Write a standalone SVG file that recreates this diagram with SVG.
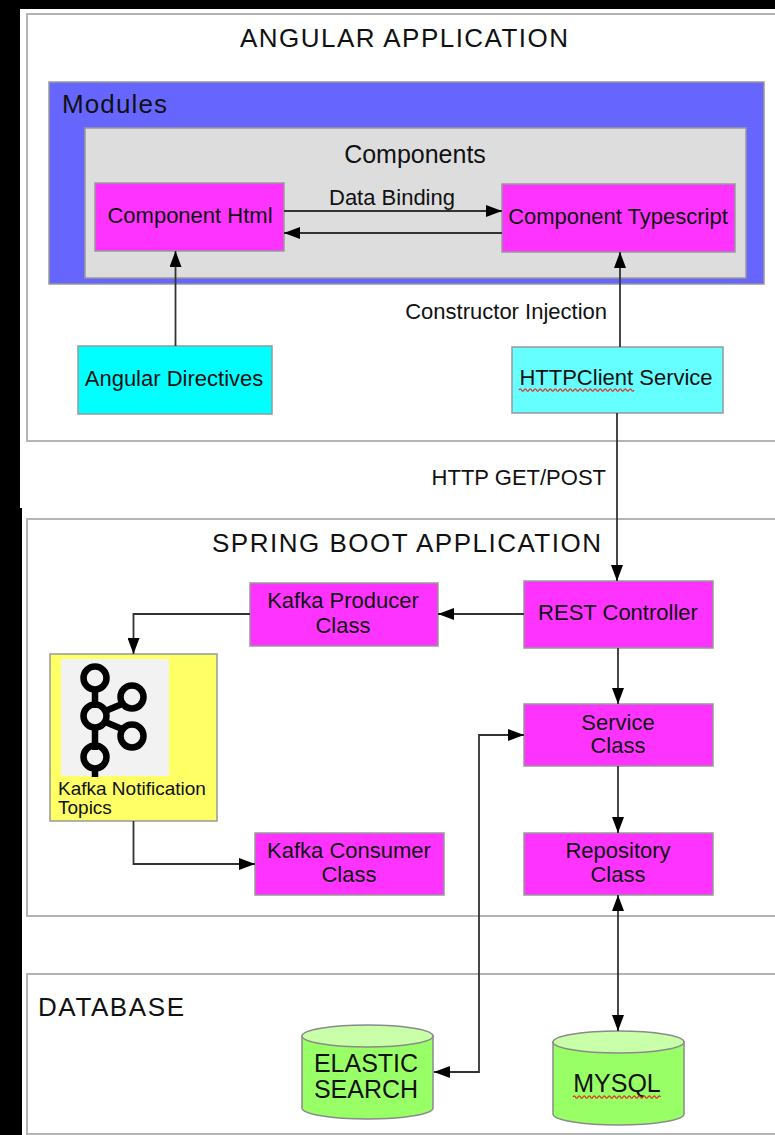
<svg xmlns="http://www.w3.org/2000/svg" width="775" height="1135" viewBox="0 0 775 1135">
<style>
text{font-family:"Liberation Sans",Arial,sans-serif;fill:#111}
.t{font-size:26px}
.l{font-size:22px;text-anchor:middle}
.panel{fill:#fff;stroke:#b4b4b4;stroke-width:2}
.box{stroke:#999;stroke-width:1.5}
.mg{fill:#ff33ff}
.con{fill:none;stroke:#333;stroke-width:1.8}
.sq{fill:none;stroke:#e03020;stroke-width:1.3}
.cyl{fill:#99ff66;stroke:#8a8a8a;stroke-width:1.5}
.cyltop{fill:#c8ffa8;stroke:#8a8a8a;stroke-width:1.5}
.kf{fill:none;stroke:#000;stroke-width:6.5}
</style>
<defs>
<marker id="ah" viewBox="0 0 16 12" refX="16" refY="6" markerWidth="16" markerHeight="12" markerUnits="userSpaceOnUse" orient="auto-start-reverse">
<path d="M0,0 L16,6 L0,12 Z" fill="#000"/>
</marker>
</defs>
<rect x="0" y="0" width="775" height="1135" fill="#000"/>
<rect x="20" y="9" width="755" height="499" fill="#fff"/>
<rect x="22" y="508" width="753" height="627" fill="#fff"/>

<g id="angular-application">
<rect class="panel" x="27" y="14" width="760" height="427"/>
<text class="t" x="240" y="47" textLength="328">ANGULAR APPLICATION</text>
</g>
<g id="modules">
<rect class="box" x="49" y="82" width="715" height="202" fill="#6666ff"/>
<text x="62" y="113" font-size="26" textLength="105">Modules</text>
</g>
<g id="components">
<rect class="box" x="85" y="128" width="661" height="150" fill="#dddddd"/>
<text x="415" y="163" font-size="25" text-anchor="middle">Components</text>
</g>
<g id="component-html">
<rect class="box mg" x="95" y="183" width="189" height="68"/>
<text class="l" x="190" y="223">Component Html</text>
</g>
<g id="component-typescript">
<rect class="box mg" x="502" y="184" width="233" height="68"/>
<text class="l" x="618" y="224">Component Typescript</text>
</g>
<g id="angular-directives">
<rect class="box" x="78" y="346" width="194" height="68" fill="#00ffff"/>
<text class="l" x="174" y="386">Angular Directives</text>
</g>
<g id="httpclient-service">
<rect class="box" x="512" y="347" width="211" height="66" fill="#66ffff"/>
<text class="l" x="616" y="385">HTTPClient Service</text>
<path class="sq" d="M519,390 q1.25,-2.4 2.5,0 t2.5,0 t2.5,0 t2.5,0 t2.5,0 t2.5,0 t2.5,0 t2.5,0 t2.5,0 t2.5,0 t2.5,0 t2.5,0 t2.5,0 t2.5,0 t2.5,0 t2.5,0 t2.5,0 t2.5,0 t2.5,0 t2.5,0 t2.5,0 t2.5,0 t2.5,0 t2.5,0 t2.5,0 t2.5,0 t2.5,0 t2.5,0 t2.5,0 t2.5,0 t2.5,0 t2.5,0 t2.5,0 t2.5,0 t2.5,0 t2.5,0 t2.5,0 t2.5,0 t2.5,0 t2.5,0 t2.5,0 t2.5,0 t2.5,0 t2.5,0 t2.5,0 t2.5,0"/>
</g>

<g id="spring-boot-application">
<rect class="panel" x="27" y="519" width="760" height="397"/>
<text class="t" x="212" y="552" textLength="389">SPRING BOOT APPLICATION</text>
</g>
<g id="rest-controller">
<rect class="box mg" x="524" y="581" width="189" height="67"/>
<text class="l" x="618" y="620">REST Controller</text>
</g>
<g id="kafka-producer">
<rect class="box mg" x="250" y="583" width="188" height="63"/>
<text class="l" x="343" y="608">Kafka Producer</text>
<text class="l" x="343" y="633">Class</text>
</g>
<g id="kafka-topics">
<rect class="box" x="50" y="654" width="167" height="167" fill="#ffff66"/>
<rect x="61" y="659" width="108" height="117" fill="#f2f2f2"/>
<line class="kf" x1="95" y1="688" x2="95" y2="708"/>
<line class="kf" x1="95" y1="725" x2="95" y2="750"/>
<line class="kf" x1="95" y1="766" x2="95" y2="777"/>
<line class="kf" x1="103" y1="712" x2="122" y2="704"/>
<line class="kf" x1="103" y1="721" x2="122" y2="729"/>
<circle class="kf" cx="95" cy="678" r="11.5"/>
<circle class="kf" cx="95" cy="716" r="11.5"/>
<circle class="kf" cx="95" cy="757" r="11.5"/>
<circle class="kf" cx="132" cy="697" r="11.5"/>
<circle class="kf" cx="132" cy="736" r="11.5"/>
<text x="58" y="795" font-size="19">Kafka Notification</text>
<text x="58" y="814" font-size="19">Topics</text>
</g>
<g id="kafka-consumer">
<rect class="box mg" x="255" y="833" width="189" height="62"/>
<text class="l" x="349" y="858">Kafka Consumer</text>
<text class="l" x="349" y="882">Class</text>
</g>
<g id="service-class">
<rect class="box mg" x="524" y="704" width="189" height="62"/>
<text class="l" x="618" y="730">Service</text>
<text class="l" x="618" y="753">Class</text>
</g>
<g id="repository-class">
<rect class="box mg" x="524" y="833" width="189" height="62"/>
<text class="l" x="618" y="858">Repository</text>
<text class="l" x="618" y="882">Class</text>
</g>

<g id="database">
<rect class="panel" x="27" y="974" width="760" height="160"/>
<text class="t" x="38" y="1016" textLength="146">DATABASE</text>
</g>
<g id="elastic-search">
<path class="cyl" d="M302,1036 L302,1108 A65.5,11 0 0 0 433,1108 L433,1036 Z"/>
<ellipse class="cyltop" cx="367.5" cy="1036" rx="65.5" ry="11"/>
<text x="366" y="1072" font-size="25" text-anchor="middle">ELASTIC</text>
<text x="366" y="1098" font-size="25" text-anchor="middle">SEARCH</text>
</g>
<g id="mysql">
<path class="cyl" d="M553,1042 L553,1114 A65.5,11 0 0 0 684,1114 L684,1042 Z"/>
<ellipse class="cyltop" cx="618.5" cy="1042" rx="65.5" ry="11"/>
<text x="617" y="1092" font-size="25" text-anchor="middle">MYSQL</text>
<path class="sq" d="M573,1097 q1.25,-2.4 2.5,0 t2.5,0 t2.5,0 t2.5,0 t2.5,0 t2.5,0 t2.5,0 t2.5,0 t2.5,0 t2.5,0 t2.5,0 t2.5,0 t2.5,0 t2.5,0 t2.5,0 t2.5,0 t2.5,0 t2.5,0 t2.5,0 t2.5,0 t2.5,0 t2.5,0 t2.5,0 t2.5,0 t2.5,0 t2.5,0 t2.5,0 t2.5,0 t2.5,0 t2.5,0 t2.5,0 t2.5,0 t2.5,0 t2.5,0 t2.5,0"/>
</g>

<g id="connectors">
<line class="con" x1="284" y1="211" x2="502" y2="211" marker-end="url(#ah)"/>
<text x="392" y="205" font-size="22" text-anchor="middle">Data Binding</text>
<line class="con" x1="502" y1="233" x2="284" y2="233" marker-end="url(#ah)"/>
<line class="con" x1="175.5" y1="346" x2="175.5" y2="251" marker-end="url(#ah)"/>
<line class="con" x1="620" y1="347" x2="620" y2="252" marker-end="url(#ah)"/>
<text x="607" y="319" font-size="22" text-anchor="end">Constructor Injection</text>
<line class="con" x1="617" y1="413" x2="617" y2="581" marker-end="url(#ah)"/>
<text x="606" y="485" font-size="22" text-anchor="end">HTTP GET/POST</text>
<line class="con" x1="524" y1="614" x2="438" y2="614" marker-end="url(#ah)"/>
<polyline class="con" points="250,614 133.5,614 133.5,654" marker-end="url(#ah)"/>
<polyline class="con" points="133.5,821 133.5,864 255,864" marker-end="url(#ah)"/>
<line class="con" x1="618" y1="648" x2="618" y2="704" marker-end="url(#ah)"/>
<line class="con" x1="618" y1="766" x2="618" y2="833" marker-end="url(#ah)"/>
<line class="con" x1="618" y1="895" x2="618" y2="1031" marker-start="url(#ah)" marker-end="url(#ah)"/>
<polyline class="con" points="434,1072 479,1072 479,735 524,735" marker-start="url(#ah)" marker-end="url(#ah)"/>
</g>
</svg>
